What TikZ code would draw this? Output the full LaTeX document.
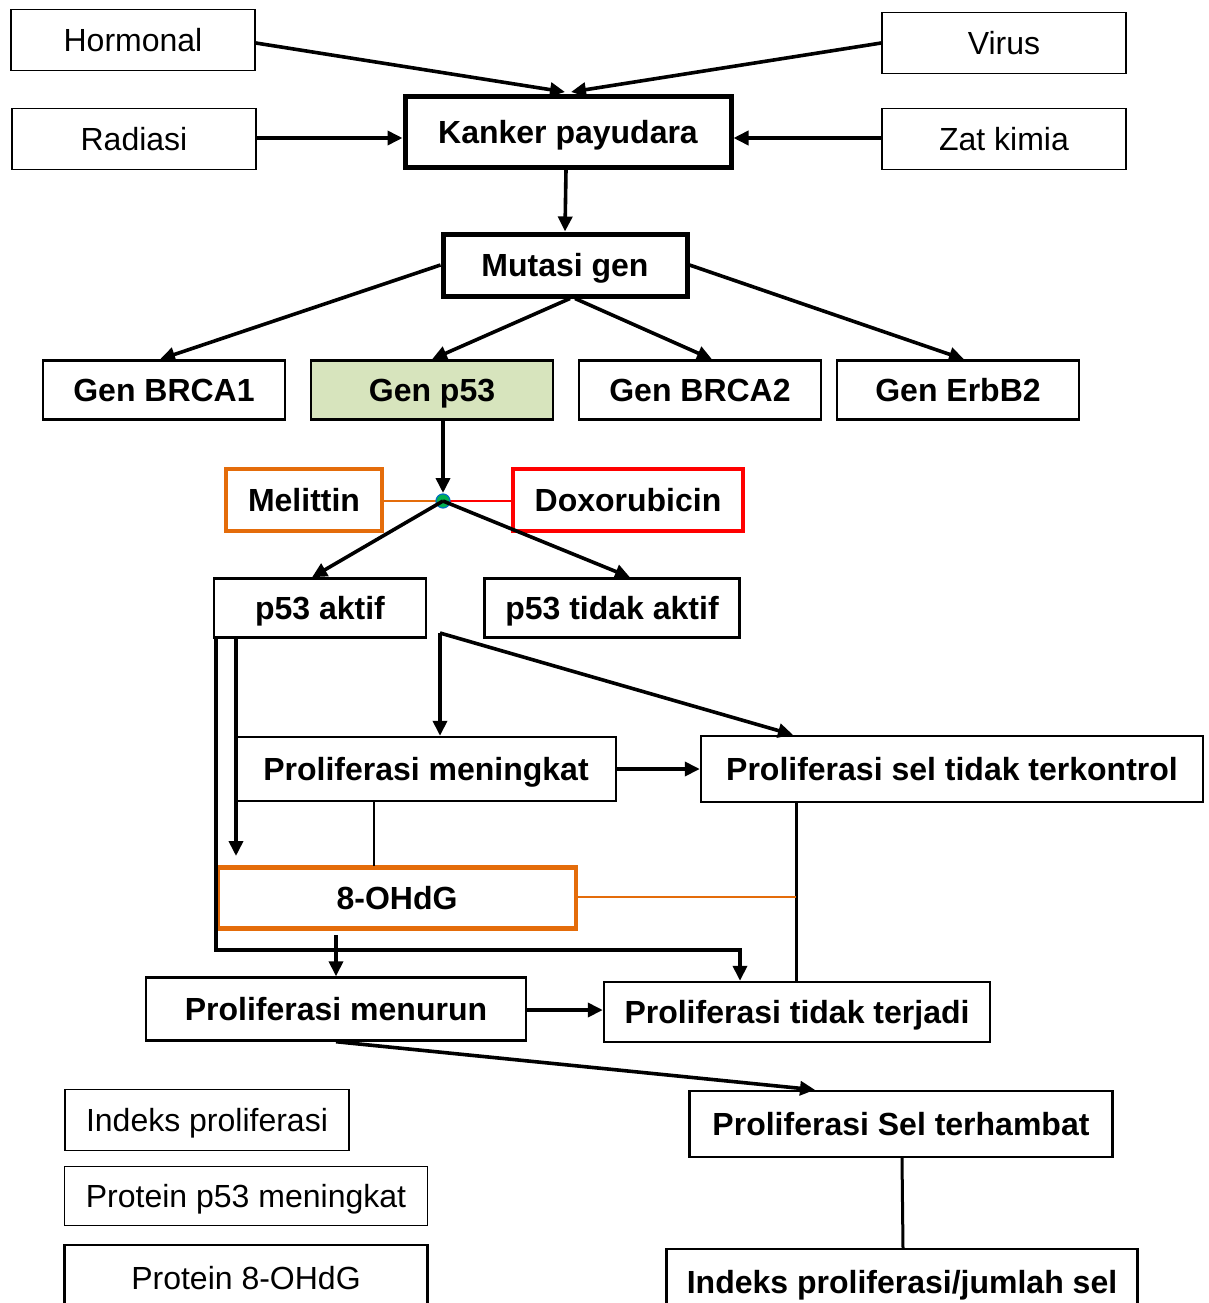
\documentclass[tikz,border=0pt]{standalone}
\usepackage{fontspec}
\setmainfont{Liberation Sans}
\usetikzlibrary{arrows.meta}
\definecolor{orng}{HTML}{E46C0A}
\definecolor{gfill}{HTML}{D7E4BD}
\definecolor{dotg}{HTML}{00B050}
\definecolor{dotb}{HTML}{0070C0}
\begin{document}
\begin{tikzpicture}[x=1pt,y=-1pt,
  base/.style={draw, inner sep=0pt, align=center, text height=23pt, text depth=0pt, font=\fontsize{32}{36}\selectfont},
  plain/.style={base, line width=1.6pt},
  bold/.style={base, line width=2.4pt, font=\fontsize{32}{36}\selectfont\bfseries},
  thick/.style={base, line width=5pt, font=\fontsize{32}{36}\selectfont\bfseries},
  obox/.style={base, draw=orng, line width=4.5pt, font=\fontsize{32}{36}\selectfont\bfseries},
  rbox/.style={base, draw=red, line width=4.5pt, font=\fontsize{32}{36}\selectfont\bfseries},
  tip/.style={-{Triangle[length=15pt,width=14pt]}},
  arr/.style={line width=3.6pt, tip},
  ln/.style={line width=3.6pt},
  sz/.style 2 args={minimum width=#1pt, minimum height=#2pt}
]
\useasboundingbox (0,0) rectangle (1208,1303);
\clip (0,0) rectangle (1208,1303);
\fill[white] (0,0) rectangle (1208,1303);

% top causes
\node[plain, sz={244}{61}] (hormonal) at (133,40) {Hormonal};
\node[plain, sz={244}{61}] (virus) at (1004,43) {Virus};
\node[plain, sz={244}{61}] (radiasi) at (134,139) {Radiasi};
\node[plain, sz={244}{61}] (zat) at (1004,139) {Zat kimia};
\node[thick, sz={326}{70}] (kanker) at (568,132) {Kanker payudara};
\coordinate (k1) at (565,92);
\coordinate (k2) at (571,92);
\draw[arr] (hormonal.east) ++(0,3) -- (k1);
\draw[arr] (virus.west) -- (k2);
\coordinate (r1) at (256,138);
\coordinate (z1) at (882,138);
\draw[arr] (r1) -- (r1 -| kanker.west);
\draw[arr] (z1) -- (z1 -| kanker.east);

\node[thick, sz={244}{62}] (mutasi) at (565,265) {Mutasi gen};
\draw[arr] (kanker.south) ++(-2,0) -- (mutasi.north);

\node[bold, sz={242}{59}] (brca1) at (164,390) {Gen BRCA1};
\node[bold, sz={242}{59}, fill=gfill] (p53) at (432,390) {Gen p53};
\node[bold, sz={242}{59}] (brca2) at (700,390) {Gen BRCA2};
\node[bold, sz={242}{59}] (erbb2) at (958,390) {Gen ErbB2};
\draw[arr] (mutasi.west) -- ([xshift=-4pt]brca1.north);
\draw[arr] ([xshift=5pt]mutasi.south) -- (p53.north);
\draw[arr] ([xshift=10pt]mutasi.south) -- ([xshift=12pt]brca2.north);
\draw[arr] (mutasi.east) -- ([xshift=6pt]erbb2.north);

% junction
\node[obox, sz={156}{62}] (melittin) at (304,500) {Melittin};
\node[rbox, sz={230}{62}] (doxo) at (628,500) {Doxorubicin};
\coordinate (jc) at (443,501);
\draw[orng, line width=2.4pt] (jc -| melittin.east) -- (jc);
\draw[red, line width=2.4pt] (jc) -- (jc -| doxo.west);
\draw[arr] (p53.south -| jc) -- (443,493);
\node[circle, fill=dotg, draw=dotb, line width=1.2pt, minimum size=14pt, inner sep=0pt] (dot) at (jc) {};

\node[bold, sz={212}{59}] (aktif) at (320,608) {p53 aktif};
\node[bold, sz={255}{59}] (tidak) at (612,608) {p53 tidak aktif};
\draw[arr] (dot.center) -- ([xshift=-8pt]aktif.north);
\draw[arr] (dot.center) -- ([xshift=18pt]tidak.north);

\node[bold, sz={380}{64}] (meningkat) at (426,769) {Proliferasi meningkat};
\node[bold, sz={502}{66}] (terkontrol) at (952,769) {Proliferasi sel tidak terkontrol};
\node[obox, sz={358}{61}] (ohdg) at (397,898) {8-OHdG};
\node[bold, sz={380}{63}] (menurun) at (336,1009) {Proliferasi menurun};
\node[bold, sz={386}{60}] (terjadi) at (797,1012) {Proliferasi tidak terjadi};

\coordinate (a0) at (440,633);
\draw[arr] (a0) -- (a0 |- meningkat.north);
\draw[arr] (a0) -- ([xshift=-159pt]terkontrol.north);
\draw[arr] (meningkat.east) -- (terkontrol.west);
\draw[line width=2.6pt] (374,801) -- (374,866);

\coordinate (v1) at (216,637);
\coordinate (v2) at (216,950);
\coordinate (v3) at (740,950);
\draw[ln, tip] (v1) -- (v2) -- (v3) -- (v3 |- terjadi.north);
\coordinate (w1) at (236,637);
\coordinate (w2) at (236,856);
\draw[arr] (w1) -- (w2);

\coordinate (t1) at (796,802);
\coordinate (t2) at (796,897);
\draw[line width=3pt] (t1) -- (t1 |- terjadi.north);
\draw[orng, line width=2.6pt] (ohdg.east |- t2) -- (t2);

\coordinate (o1) at (336,935);
\draw[arr] (o1) -- (o1 |- menurun.north);
\coordinate (m1) at (526,1010);
\draw[arr] (m1) -- (m1 -| terjadi.west);

\node[bold, sz={423}{66}] (terhambat) at (901,1124) {Proliferasi Sel terhambat};
\draw[arr] (menurun.south) -- ([xshift=-86pt]terhambat.north);
\node[bold, sz={471}{66}, anchor=north] (indeks2) at (902,1248) {Indeks proliferasi/jumlah sel};
\draw[line width=3pt] ([xshift=1pt]terhambat.south) -- ([xshift=1pt]indeks2.north);

% legend boxes
\node[plain, sz={284}{61}] (ind) at (207,1120) {Indeks proliferasi};
\node[plain, sz={363}{59}] (prot53) at (246,1196) {Protein p53 meningkat};
\node[plain, line width=2.4pt, sz={363}{66}, anchor=north] (prot8) at (246,1244) {Protein 8-OHdG};
\end{tikzpicture}
\end{document}
